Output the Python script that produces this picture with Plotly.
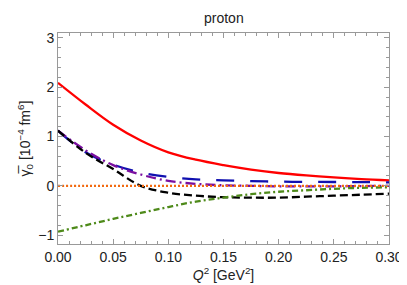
import plotly.graph_objects as go

q2 = [0.0, 0.025, 0.05, 0.075, 0.1, 0.125, 0.15, 0.175, 0.2, 0.225, 0.25, 0.275, 0.3]
red_total = [2.09, 1.65, 1.24, 0.92, 0.68, 0.53, 0.42, 0.33, 0.26, 0.21, 0.17, 0.135, 0.11]
blue_long = [1.12, 0.68, 0.43, 0.27, 0.18, 0.13, 0.11, 0.095, 0.085, 0.08, 0.078, 0.075, 0.07]
purple_dd = [1.12, 0.72, 0.42, 0.23, 0.10, 0.04, 0.01, 0.0, -0.01, -0.01, -0.01, -0.005, 0.0]
black_dash = [1.12, 0.67, 0.34, 0.0, -0.14, -0.20, -0.23, -0.24, -0.24, -0.22, -0.20, -0.18, -0.16]
green_dd = [-0.93, -0.80, -0.67, -0.55, -0.43, -0.32, -0.24, -0.17, -0.12, -0.09, -0.06, -0.04, -0.03]
orange_dot = [0.0] * len(q2)

x_ticks = [0.0, 0.05, 0.10, 0.15, 0.20, 0.25, 0.30]
x_ticklabels = ["0.00", "0.05", "0.10", "0.15", "0.20", "0.25", "0.30"]
y_ticks = [-1, 0, 1, 2, 3]
y_ticklabels = ["\u22121", "0", "1", "2", "3"]
title_text = "proton"

series = [
    (red_total, "#FF0000", "solid"),
    (blue_long, "#1010B0", "18px,16px"),
    (purple_dd, "#7A0FA0", "10px,4px,2px,4px"),
    (black_dash, "#000000", "8px,4px"),
    (green_dd, "#4E8A1A", "6px,3px,2px,3px"),
    (orange_dot, "#F26A10", "2px,2px"),
]

fig = go.Figure()
for ys, col, dash in series:
    fig.add_trace(go.Scatter(x=q2, y=ys, mode="lines", line=dict(color=col, width=2.3, dash=dash, shape="spline"),
                             showlegend=False, hoverinfo="skip"))

font_family = "Liberation Sans, Arial, sans-serif"
axis_common = dict(
    showgrid=False, zeroline=False, showline=True, linecolor="#999999", linewidth=1,
    mirror="allticks", ticks="inside", ticklen=5, tickcolor="#999999", tickwidth=1,
    tickfont=dict(family=font_family, size=14, color="#222222"),
)
fig.add_annotation(text=title_text, xref="paper", yref="paper", x=0.5, y=1.071,
                   xanchor="center", yanchor="middle", showarrow=False,
                   font=dict(family=font_family, size=14, color="#222222"))
fig.update_layout(
    width=407, height=285,
    margin=dict(l=50, r=14, t=25, b=49),
    plot_bgcolor="white", paper_bgcolor="white",
    xaxis=dict(range=[0, 0.3], tickvals=x_ticks, ticktext=x_ticklabels,
               minor=dict(dtick=0.01, ticklen=3, tickcolor="#999999", ticks="inside"),
               title=dict(text="<i>Q</i><sup>2</sup> [GeV<sup>2</sup>]", standoff=6,
                          font=dict(family=font_family, size=14, color="#222222")),
               **axis_common),
    yaxis=dict(range=[-1.18, 3.1], tickvals=y_ticks, ticktext=y_ticklabels,
               minor=dict(dtick=0.2, ticklen=3, tickcolor="#999999", ticks="inside"),
               title=dict(text="\u03b3\u0305<sub>0</sub> [10<sup>\u22124</sup> fm<sup>6</sup>]", standoff=4,
                          font=dict(family=font_family, size=14, color="#222222")),
               **axis_common),
)
fig.write_html("out.html")
